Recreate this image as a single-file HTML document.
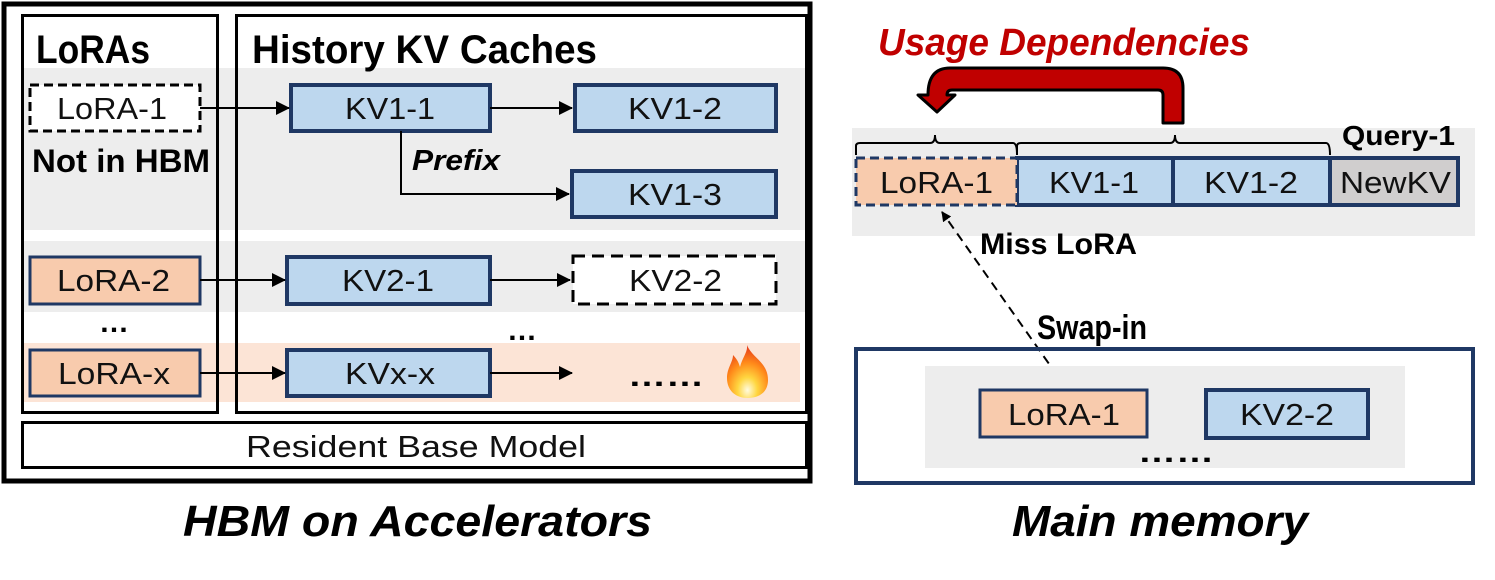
<!DOCTYPE html>
<html><head><meta charset="utf-8"><style>
html,body{margin:0;padding:0;background:#fff;}
svg{display:block}
.b{font-family:"Liberation Sans",sans-serif;font-weight:bold;}
.t{font-family:"Liberation Sans",sans-serif;font-size:31px;fill:#111;}
</style></head><body>
<svg width="1495" height="580" viewBox="0 0 1495 580" xmlns="http://www.w3.org/2000/svg">
<defs>
<marker id="ah" markerWidth="10" markerHeight="10" refX="9" refY="5" orient="auto" markerUnits="userSpaceOnUse"><path d="M0,0 L10,5 L0,10 z" fill="#000"/></marker>
<marker id="ah2" markerWidth="14" markerHeight="14" refX="13" refY="7" orient="auto" markerUnits="userSpaceOnUse"><path d="M0,0 L14,7 L0,14 z" fill="#000"/></marker>
<radialGradient id="fl" cx="0.5" cy="0.85" r="0.8"><stop offset="0" stop-color="#fffbe0"/><stop offset="0.3" stop-color="#ffd640"/><stop offset="0.65" stop-color="#ff8a1a"/><stop offset="1" stop-color="#e8401a"/></radialGradient>
</defs>
<!-- LEFT -->
<rect x="4" y="4" width="806" height="477" fill="#fff" stroke="#000" stroke-width="5"/>
<rect x="22" y="68" width="784" height="162" fill="#ededed"/>
<rect x="22" y="241" width="784" height="71" fill="#ededed"/>
<rect x="22" y="343" width="778" height="59" fill="#fce4d6"/>
<rect x="22.5" y="15.5" width="195" height="397" fill="none" stroke="#000" stroke-width="3"/>
<rect x="236.5" y="15.5" width="570" height="397" fill="none" stroke="#000" stroke-width="3"/>
<text x="36" y="63" class="b" font-size="40" textLength="114" lengthAdjust="spacingAndGlyphs">LoRAs</text>
<text x="252" y="63" class="b" font-size="40" textLength="345" lengthAdjust="spacingAndGlyphs">History KV Caches</text>
<text x="32" y="172" class="b" font-size="32" textLength="178" lengthAdjust="spacingAndGlyphs">Not in HBM</text>
<rect x="30" y="85" width="170" height="46" fill="#fff" stroke="#000" stroke-width="3" stroke-dasharray="9,5"/>
<text x="57" y="119" class="t" textLength="110" lengthAdjust="spacingAndGlyphs">LoRA-1</text>
<rect x="291" y="85" width="199" height="46" fill="#bdd7ee" stroke="#1f3864" stroke-width="4"/>
<text x="345" y="119" class="t" textLength="90" lengthAdjust="spacingAndGlyphs">KV1-1</text>
<rect x="575" y="85" width="201" height="46" fill="#bdd7ee" stroke="#1f3864" stroke-width="4"/>
<text x="628" y="119" class="t" textLength="94" lengthAdjust="spacingAndGlyphs">KV1-2</text>
<rect x="572" y="171" width="204" height="46" fill="#bdd7ee" stroke="#1f3864" stroke-width="4"/>
<text x="628" y="205" class="t" textLength="94" lengthAdjust="spacingAndGlyphs">KV1-3</text>
<line x1="200" y1="108" x2="289" y2="108" stroke="#000" stroke-width="2" marker-end="url(#ah2)"/>
<line x1="490" y1="108" x2="572" y2="108" stroke="#000" stroke-width="2" marker-end="url(#ah2)"/>
<polyline points="401,131 401,194 569,194" fill="none" stroke="#000" stroke-width="2" marker-end="url(#ah2)"/>
<text x="412" y="170" class="b" font-size="29" font-style="italic" textLength="88" lengthAdjust="spacingAndGlyphs">Prefix</text>
<rect x="30" y="257" width="170" height="47" fill="#f8cbad" stroke="#1f3864" stroke-width="3"/>
<text x="57" y="291" class="t" textLength="113" lengthAdjust="spacingAndGlyphs">LoRA-2</text>
<rect x="287" y="257" width="203" height="47" fill="#bdd7ee" stroke="#1f3864" stroke-width="4"/>
<text x="342" y="291" class="t" textLength="92" lengthAdjust="spacingAndGlyphs">KV2-1</text>
<rect x="573" y="256" width="203" height="48" fill="#fff" stroke="#000" stroke-width="3" stroke-dasharray="12,7"/>
<text x="629" y="291" class="t" textLength="93" lengthAdjust="spacingAndGlyphs">KV2-2</text>
<line x1="200" y1="280" x2="285" y2="280" stroke="#000" stroke-width="2" marker-end="url(#ah2)"/>
<line x1="490" y1="280" x2="570" y2="280" stroke="#000" stroke-width="2" marker-end="url(#ah2)"/>
<text x="114" y="332" class="b" font-size="30" text-anchor="middle">…</text>
<text x="522" y="340" class="b" font-size="30" text-anchor="middle">…</text>
<rect x="30" y="350" width="170" height="46" fill="#f8cbad" stroke="#1f3864" stroke-width="3"/>
<text x="58" y="384" class="t" textLength="112" lengthAdjust="spacingAndGlyphs">LoRA-x</text>
<rect x="287" y="350" width="203" height="46" fill="#bdd7ee" stroke="#1f3864" stroke-width="4"/>
<text x="345" y="384" class="t" textLength="90" lengthAdjust="spacingAndGlyphs">KVx-x</text>
<line x1="200" y1="373" x2="285" y2="373" stroke="#000" stroke-width="2" marker-end="url(#ah2)"/>
<line x1="490" y1="373" x2="572" y2="373" stroke="#000" stroke-width="2" marker-end="url(#ah2)"/>
<text x="628" y="386" class="b" font-size="30" textLength="76" lengthAdjust="spacingAndGlyphs">……</text>
<path d="M747,345 C752,358 768,362 768,380 C768,393 758,398 748,398 C735,398 727,390 727,378 C727,368 733,362 733,355 C738,360 739,364 740,367 C742,358 748,352 747,345 Z" fill="url(#fl)"/>
<rect x="22.5" y="422.5" width="784" height="45" fill="#fff" stroke="#000" stroke-width="3"/>
<text x="246" y="457" class="t" font-size="30" textLength="340" lengthAdjust="spacingAndGlyphs">Resident Base Model</text>
<text x="183" y="536" font-family="Liberation Sans,sans-serif" font-weight="bold" font-style="italic" font-size="44" textLength="469" lengthAdjust="spacingAndGlyphs">HBM on Accelerators</text>
<!-- RIGHT -->
<text x="878" y="55" class="b" font-size="38" font-style="italic" fill="#c00000" textLength="372" lengthAdjust="spacingAndGlyphs">Usage Dependencies</text>
<path d="M1163,123 L1163,95 Q1163,90 1158,90 L952,90 Q947,90 947,95 L955,95 L937,112 L918,95 L928,95 Q928,68 950,68 L1163,68 Q1183,68 1183,88 L1183,123 Z" fill="#c00000" stroke="#000" stroke-width="3" stroke-linejoin="round"/>
<rect x="852" y="128" width="623" height="108" fill="#ededed"/>
<text x="1342" y="145" class="b" font-size="28" textLength="113" lengthAdjust="spacingAndGlyphs">Query-1</text>
<path d="M856,155 L856,146 Q856,143 860,143 L930,143 Q935,143 935,135 Q935,143 940,143 L1013,143 Q1017,143 1017,155" fill="none" stroke="#000" stroke-width="2"/>
<path d="M1017,155 L1017,146 Q1017,143 1021,143 L1170,143 Q1175,143 1175,135 Q1175,143 1180,143 L1326,143 Q1330,143 1330,155" fill="none" stroke="#000" stroke-width="2"/>
<rect x="1017" y="158" width="156" height="47" fill="#bdd7ee" stroke="#1f3864" stroke-width="4"/>
<text x="1049" y="193" class="t" textLength="90" lengthAdjust="spacingAndGlyphs">KV1-1</text>
<rect x="1173" y="158" width="157" height="47" fill="#bdd7ee" stroke="#1f3864" stroke-width="4"/>
<text x="1204" y="193" class="t" textLength="94" lengthAdjust="spacingAndGlyphs">KV1-2</text>
<rect x="1330" y="158" width="128" height="47" fill="#d0cece" stroke="#1f3864" stroke-width="4"/>
<text x="1340" y="193" class="t" textLength="111" lengthAdjust="spacingAndGlyphs">NewKV</text>
<rect x="856" y="158" width="161" height="47" fill="#f8cbad" stroke="#1f3864" stroke-width="3" stroke-dasharray="9,5"/>
<text x="880" y="193" class="t" textLength="113" lengthAdjust="spacingAndGlyphs">LoRA-1</text>
<text x="980" y="254" class="b" font-size="30" textLength="157" lengthAdjust="spacingAndGlyphs">Miss LoRA</text>
<line x1="1066" y1="388" x2="942" y2="212" stroke="#000" stroke-width="2" stroke-dasharray="9,6" marker-end="url(#ah)"/>
<text x="1037" y="339" class="b" font-size="34" textLength="110" lengthAdjust="spacingAndGlyphs">Swap-in</text>
<rect x="856" y="349" width="617" height="134" fill="none" stroke="#1f3864" stroke-width="4"/>
<rect x="925" y="366" width="480" height="102" fill="#ededed"/>
<rect x="980" y="390" width="167" height="47" fill="#f8cbad" stroke="#1f3864" stroke-width="3"/>
<text x="1008" y="425" class="t" textLength="112" lengthAdjust="spacingAndGlyphs">LoRA-1</text>
<rect x="1206" y="390" width="162" height="48" fill="#bdd7ee" stroke="#1f3864" stroke-width="4"/>
<text x="1240" y="425" class="t" textLength="94" lengthAdjust="spacingAndGlyphs">KV2-2</text>
<text x="1138" y="462" class="b" font-size="30" textLength="76" lengthAdjust="spacingAndGlyphs">……</text>
<text x="1012" y="536" font-family="Liberation Sans,sans-serif" font-weight="bold" font-style="italic" font-size="44" textLength="296" lengthAdjust="spacingAndGlyphs">Main memory</text>
</svg>
</body></html>
